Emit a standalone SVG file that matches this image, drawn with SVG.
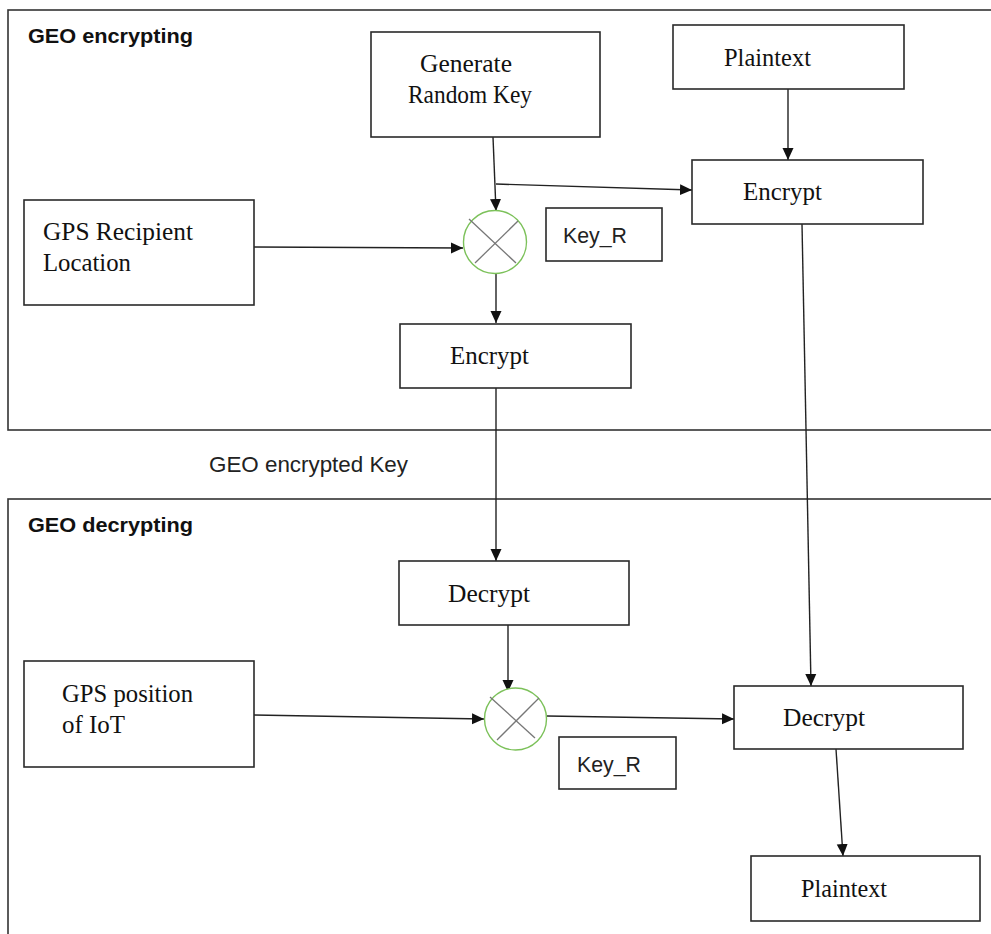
<svg xmlns="http://www.w3.org/2000/svg" width="991" height="934" viewBox="0 0 991 934">
  <style>
    .frame { fill: none; stroke: #333; stroke-width: 1.6; }
    .box { fill: #fff; stroke: #2a2a2a; stroke-width: 1.6; }
    .mix { fill: #fff; stroke: #7cc15a; stroke-width: 1.4; }
    .cross { stroke: #777; stroke-width: 1.3; }
    .conn { fill: none; stroke: #222; stroke-width: 1.4; marker-end: url(#arrow); }
    .serif { font-family: "Liberation Serif", "Times New Roman", serif; font-size: 25px; fill: #111; }
    .sans { font-family: "Liberation Sans", Arial, sans-serif; font-size: 22px; fill: #222; }
    .head { font-family: "Liberation Sans", Arial, sans-serif; font-size: 20px; font-weight: bold; fill: #111; }
  </style>
  <defs>
    <marker id="arrow" viewBox="0 0 12 12" refX="12" refY="6" markerWidth="12" markerHeight="12" markerUnits="userSpaceOnUse" orient="auto">
      <path d="M0,0.5 L12,6 L0,11.5 Z" fill="#111"/>
    </marker>
  </defs>
  <rect width="991" height="934" fill="#fff"/>

  <!-- section frames -->
  <g id="frame-encrypting">
    <rect class="frame" x="8" y="10" width="1000" height="420"/>
    <text class="head" x="28" y="43" textLength="165" lengthAdjust="spacingAndGlyphs">GEO encrypting</text>
  </g>
  <g id="frame-decrypting">
    <rect class="frame" x="8" y="499" width="1000" height="460"/>
    <text class="head" x="28" y="532" textLength="165" lengthAdjust="spacingAndGlyphs">GEO decrypting</text>
  </g>

  <text id="label-geo-key" class="sans" x="209" y="472" font-size="21" textLength="199" lengthAdjust="spacingAndGlyphs">GEO encrypted Key</text>

  <!-- connectors -->
  <g id="connectors">
    <path class="conn" d="M788,89 L788,160"/>
    <path class="conn" d="M493,137 L496,211"/>
    <path class="conn" d="M496,184 L692,190"/>
    <path class="conn" d="M250,247 L463,248"/>
    <path class="conn" d="M496,273 L496,323"/>
    <path class="conn" d="M496,388 L496,561"/>
    <path class="conn" d="M802,224 L811,686"/>
    <path class="conn" d="M508,625 L508,692"/>
    <path class="conn" d="M254,715 L484,719"/>
    <path class="conn" d="M547,716 L734,719"/>
    <path class="conn" d="M836,749 L843,856"/>
  </g>

  <!-- encrypting side -->
  <g id="gen-key">
    <rect class="box" x="371" y="32" width="229" height="105"/>
    <text class="serif" x="420" y="72" textLength="92" lengthAdjust="spacingAndGlyphs">Generate</text>
    <text class="serif" x="408" y="103" textLength="124" lengthAdjust="spacingAndGlyphs">Random  Key</text>
  </g>
  <g id="plaintext-in">
    <rect class="box" x="673" y="25" width="231" height="64"/>
    <text class="serif" x="724" y="66" textLength="87" lengthAdjust="spacingAndGlyphs">Plaintext</text>
  </g>
  <g id="encrypt-data">
    <rect class="box" x="692" y="160" width="231" height="64"/>
    <text class="serif" x="743" y="200" textLength="79" lengthAdjust="spacingAndGlyphs">Encrypt</text>
  </g>
  <g id="gps-recipient">
    <rect class="box" x="24" y="200" width="230" height="105"/>
    <text class="serif" x="43" y="240" textLength="150" lengthAdjust="spacingAndGlyphs">GPS  Recipient</text>
    <text class="serif" x="43" y="271" textLength="88" lengthAdjust="spacingAndGlyphs">Location</text>
  </g>
  <g id="mix-encrypt">
    <circle class="mix" cx="495" cy="242" r="31.5"/>
    <line class="cross" x1="469" y1="219" x2="516" y2="263"/>
    <line class="cross" x1="518" y1="221" x2="475" y2="263"/>
  </g>
  <g id="key-r-encrypt">
    <rect class="box" x="546" y="208" width="116" height="53"/>
    <text class="sans" x="563" y="243" textLength="64" lengthAdjust="spacingAndGlyphs">Key_R</text>
  </g>
  <g id="encrypt-key">
    <rect class="box" x="400" y="324" width="231" height="64"/>
    <text class="serif" x="450" y="364" textLength="79" lengthAdjust="spacingAndGlyphs">Encrypt</text>
  </g>

  <!-- decrypting side -->
  <g id="decrypt-key">
    <rect class="box" x="399" y="561" width="230" height="64"/>
    <text class="serif" x="448" y="602" textLength="82" lengthAdjust="spacingAndGlyphs">Decrypt</text>
  </g>
  <g id="gps-iot">
    <rect class="box" x="24" y="661" width="230" height="106"/>
    <text class="serif" x="62" y="702" textLength="131" lengthAdjust="spacingAndGlyphs">GPS position</text>
    <text class="serif" x="62" y="733" textLength="63" lengthAdjust="spacingAndGlyphs">of IoT</text>
  </g>
  <g id="mix-decrypt">
    <circle class="mix" cx="515.5" cy="719" r="31"/>
    <line class="cross" x1="490" y1="697" x2="535" y2="738"/>
    <line class="cross" x1="539" y1="698" x2="497" y2="740"/>
  </g>
  <g id="key-r-decrypt">
    <rect class="box" x="559" y="737" width="117" height="52"/>
    <text class="sans" x="577" y="772" textLength="64" lengthAdjust="spacingAndGlyphs">Key_R</text>
  </g>
  <g id="decrypt-data">
    <rect class="box" x="734" y="686" width="229" height="63"/>
    <text class="serif" x="783" y="726" textLength="82" lengthAdjust="spacingAndGlyphs">Decrypt</text>
  </g>
  <g id="plaintext-out">
    <rect class="box" x="751" y="856" width="229" height="65"/>
    <text class="serif" x="801" y="897" textLength="86" lengthAdjust="spacingAndGlyphs">Plaintext</text>
  </g>
</svg>
